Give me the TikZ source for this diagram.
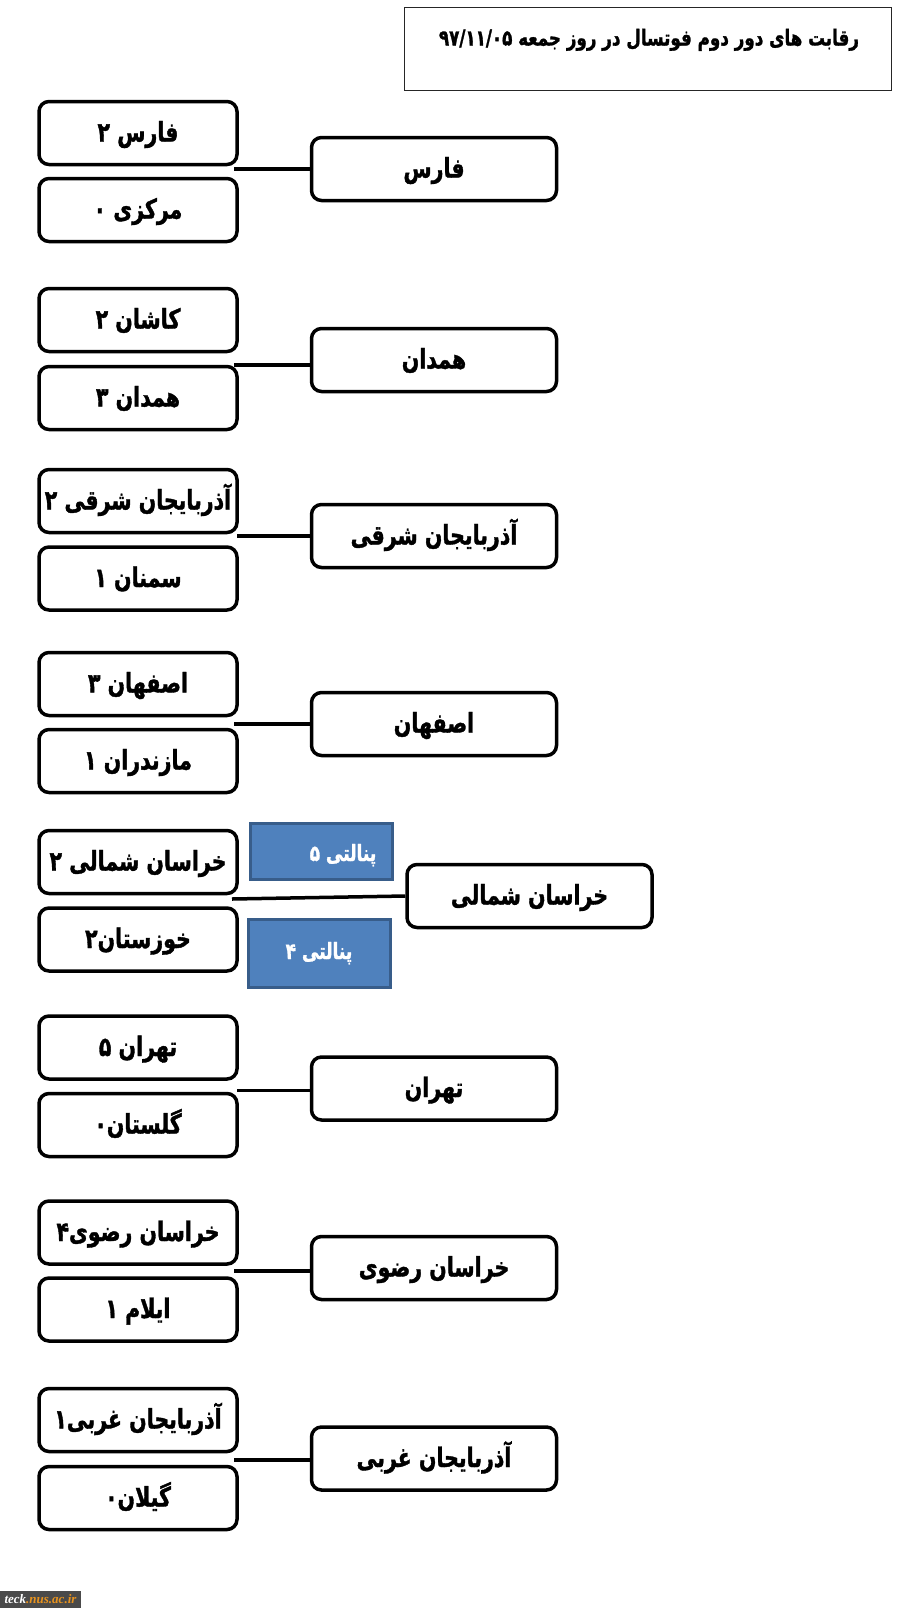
\documentclass[tikz,border=0pt]{standalone}
\usepackage{fontspec}
\setmainfont{Liberation Serif}
\newfontfamily\arabicfont[Script=Arabic,FakeStretch=.76,BoldFeatures={FakeBold=1.3}]{DejaVu Sans}
\TeXXeTstate=1
\newcommand{\fa}[1]{\beginR #1\endR}
\definecolor{penaltyfill}{HTML}{4F81BD}
\definecolor{penaltyline}{HTML}{385D8A}
\definecolor{markgray}{HTML}{4A4A4A}
\definecolor{markorange}{HTML}{E8931E}
\tikzset{
teambox/.style={draw, line width=1.75pt, rounded corners=5pt, minimum width=99pt, minimum height=31.5pt, inner sep=0pt, text height=8.5pt, text depth=0pt, font=\arabicfont\bfseries\fontsize{13.5}{13.5}\selectfont},
winbox/.style={teambox, minimum width=122.5pt},
penaltybox/.style={draw=penaltyline, fill=penaltyfill, line width=1.5pt, text=white, inner sep=0pt, text depth=0pt, font=\arabicfont\bfseries\fontsize{11.2}{11.2}\selectfont},
titlebox/.style={draw=black!85, line width=.75pt, minimum width=243.5pt, minimum height=41.5pt, inner sep=0pt},
link/.style={line width=1.75pt},
}
\begin{document}
\begin{tikzpicture}[x=.5pt,y=-.5pt]
\useasboundingbox (0,0) rectangle (900,1617);
\node[titlebox] (title) at (648,49){};
\node[font=\arabicfont\bfseries\fontsize{11}{11}\selectfont, inner sep=0pt, text height=10pt, text depth=0pt] (titletext) at (649,35.5){\fa{رقابت های دور دوم فوتسال در روز جمعه \beginL ۹۷/۱۱/۰۵\endL}};

\node[teambox] (fars1) at (138,133){\fa{فارس ۲}};
\node[teambox] (markazi) at (138,210){\fa{مرکزی ۰}};
\node[winbox] (fars) at (434,169){\fa{فارس}};
\coordinate (joint1) at (234,169);
\draw[link](joint1) -- (fars.west);

\node[teambox] (kashan) at (138,320){\fa{کاشان ۲}};
\node[teambox] (hamedan1) at (138,398){\fa{همدان ۳}};
\node[winbox] (hamedan) at (434,360){\fa{همدان}};
\coordinate (joint2) at (234,365);
\draw[link](joint2) -- (joint2 -| hamedan.west);

\node[teambox] (azsharq1) at (138,501){\fa{آذربایجان شرقی ۲}};
\node[teambox] (semnan) at (138,578.5){\fa{سمنان ۱}};
\node[winbox] (azsharq) at (434,536){\fa{آذربایجان شرقی}};
\coordinate (joint3) at (237,536);
\draw[link](joint3) -- (azsharq.west);

\node[teambox] (esfahan1) at (138,684){\fa{اصفهان ۳}};
\node[teambox] (mazandaran) at (138,761){\fa{مازندران ۱}};
\node[winbox] (esfahan) at (434,724){\fa{اصفهان}};
\coordinate (joint4) at (234,724);
\draw[link](joint4) -- (esfahan.west);

\node[teambox] (shomali1) at (138,862){\fa{خراسان شمالی ۲}};
\node[teambox] (khuzestan) at (138,939.5){\fa{خوزستان۲}};
\node[winbox] (shomali) at (529.5,896){\fa{خراسان شمالی}};
\coordinate (joint5) at (232,899);
\draw[link](joint5) -- (shomali.west);
\node[penaltybox, minimum width=71pt, minimum height=28pt, text height=10pt] (penalty5) at (321,851){\hspace*{22pt}\fa{پنالتی ۵}};
\node[penaltybox, minimum width=71pt, minimum height=34pt, text height=5.5pt] (penalty4) at (319,953.5){\fa{پنالتی ۴}};

\node[teambox] (tehran1) at (138,1047.5){\fa{تهران ۵}};
\node[teambox] (golestan) at (138,1125){\fa{گلستان۰}};
\node[winbox] (tehran) at (434,1088.5){\fa{تهران}};
\coordinate (joint6) at (237,1090.5);
\draw[link](joint6) -- (joint6 -| tehran.west);

\node[teambox] (razavi1) at (138,1232.5){\fa{خراسان رضوی۴}};
\node[teambox] (ilam) at (138,1309.5){\fa{ایلام ۱}};
\node[winbox] (razavi) at (434,1268){\fa{خراسان رضوی}};
\coordinate (joint7) at (234,1271);
\draw[link](joint7) -- (joint7 -| razavi.west);

\node[teambox] (azgharb1) at (138,1420){\fa{آذربایجان غربی۱}};
\node[teambox] (gilan) at (138,1498){\fa{گیلان۰}};
\node[winbox] (azgharb) at (434,1458.5){\fa{آذربایجان غربی}};
\coordinate (joint8) at (234,1460);
\draw[link](joint8) -- (joint8 -| azgharb.west);

\node[fill=markgray, minimum width=40.5pt, minimum height=8.5pt, inner sep=0pt, font=\bfseries\itshape\fontsize{6.5}{6.5}\selectfont] (mark) at (40.5,1599){\textcolor{white}{teck}\textcolor{markorange}{.nus.ac.ir}};
\end{tikzpicture}
\end{document}
